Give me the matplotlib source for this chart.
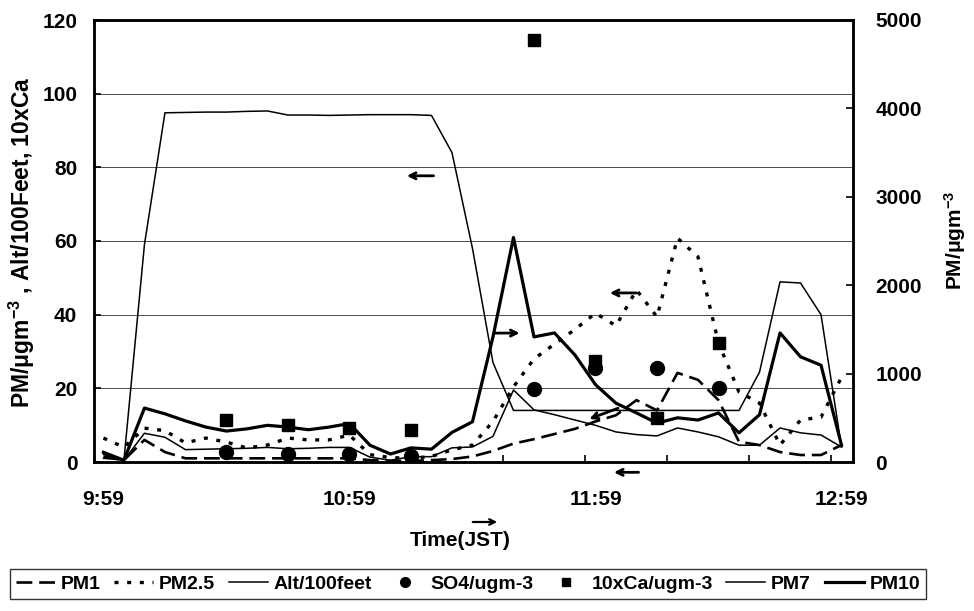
import matplotlib
matplotlib.use('Agg')
import matplotlib.pyplot as plt
import numpy as np
from matplotlib.ticker import FixedLocator, FixedFormatter, NullFormatter

plt.rcParams['font.family'] = ['Liberation Sans', 'DejaVu Sans']
plt.rcParams['font.weight'] = 'bold'
plt.rcParams['mathtext.fontset'] = 'custom'
plt.rcParams['mathtext.rm'] = 'Liberation Sans:bold'
plt.rcParams['mathtext.bf'] = 'Liberation Sans:bold'
plt.rcParams['mathtext.it'] = 'Liberation Sans:bold:italic'
plt.rcParams['mathtext.default'] = 'bf'

# ---------------- data ----------------
# minutes after 9:59 JST, 5-minute samples
minutes = np.arange(0, 185, 5)
time_labels = ['9:59', '10:59', '11:59', '12:59']
label_minutes = [0, 60, 120, 180]

# left axis (ugm-3 / 100 feet)
pm1 = [1.5, 0.5, 6, 2.7, 1, 1, 1, 1, 1, 1, 1, 1, 1, 0.5, 0.3, 0.3, 0.5, 0.8, 1.5,
       3, 5, 6.2, 7.6, 9, 11, 12.7, 16.8, 14, 24.2, 22.3, 16.8, 5.5, 4.6, 2.7, 1.9, 1.9, 4.6]
pm25 = [6.5, 4, 9.2, 8.5, 5.2, 6.5, 5.4, 3.8, 4.6, 6.5, 6, 6, 7.3, 2, 1.2, 1, 1.5, 3.3, 4.6,
        11, 20.4, 28, 32, 36, 40.4, 37, 46.7, 39.4, 60.8, 55.7, 32.3, 19, 16, 4.6, 11.4, 12.2, 23]
alt100ft = [1, 0.5, 59, 94.8, 94.9, 95, 95, 95.2, 95.3, 94.2, 94.2, 94.1, 94.2, 94.3, 94.3,
            94.3, 94.1, 84, 58, 27, 14, 14, 14, 14, 14, 14, 14, 14, 14, 14, 14, 14,
            24.4, 48.9, 48.6, 40, 4]

# discrete filter samples (left axis)
sample_minutes = [30, 45, 60, 75, 105, 120, 135, 150]
so4 = [2.8, 2.2, 2.2, 1.5, 19.7, 25.5, 25.5, 20.1]
ca10 = [11.4, 10, 9.2, 8.7, 114.6, 27.5, 12, 32.3]

# right axis (ugm-3)
pm7 = [85, 20, 325, 280, 140, 145, 150, 155, 165, 150, 155, 165, 165, 55, 20, 60, 60, 160, 170,
       290, 815, 590, 535, 475, 415, 340, 310, 295, 385, 340, 285, 190, 190, 385, 330, 305, 170]
pm10 = [110, 20, 610, 545, 465, 395, 350, 375, 415, 395, 365, 395, 435, 190, 90, 160, 145, 335, 455,
        1415, 2540, 1415, 1460, 1210, 875, 665, 555, 440, 500, 475, 555, 330, 535, 1460, 1190, 1095, 190]

# ---------------- figure ----------------
W, H = 974, 611
fig = plt.figure(figsize=(W / 100, H / 100), dpi=100)
L, R, T, B = 94, 853, 20, 462
ax = fig.add_axes([L / W, 1 - B / H, (R - L) / W, (B - T) / H])
ax2 = ax.twinx()

FS = 15

# left-axis series
h_pm1, = ax.plot(minutes, pm1, color='black', lw=1.9, linestyle=(0, (6, 2.6)), zorder=3)
h_pm25, = ax.plot(minutes, pm25, color='black', lw=2.4, linestyle=(0, (1.2, 2.6)), zorder=3)
h_alt, = ax.plot(minutes, alt100ft, color='black', lw=1.1, zorder=3)
h_so4, = ax.plot(sample_minutes, so4, linestyle='none', marker='o', ms=10, color='black', zorder=4)
h_ca, = ax.plot(sample_minutes, ca10, linestyle='none', marker='s', ms=8.5, color='black', zorder=4)

# right-axis series
h_pm7, = ax2.plot(minutes, pm7, color='black', lw=1.1, zorder=3)
h_pm10, = ax2.plot(minutes, pm10, color='black', lw=2.3, zorder=3)

ax.set_xlim(-2.3, 182.8)
ax.set_ylim(0, 120)
ax2.set_ylim(0, 5000)

# grid
ax.set_yticks(np.arange(0, 121, 20))
ax.yaxis.grid(True, color='0.3', lw=0.7)
ax.set_axisbelow(True)

# x ticks: small marks every 20 min on right part, labels hourly
ax.xaxis.set_major_locator(FixedLocator(np.arange(97.5, 182, 20)))
ax.xaxis.set_major_formatter(NullFormatter())
ax.xaxis.set_minor_locator(FixedLocator(label_minutes))
ax.xaxis.set_minor_formatter(FixedFormatter(time_labels))
ax.tick_params(axis='x', which='major', direction='in', length=5, width=1.2)
ax.tick_params(axis='x', which='minor', length=0, pad=20, labelsize=FS)
ax.tick_params(axis='y', direction='in', length=5, width=1.2, pad=12, labelsize=FS)

ax2.set_yticks(np.arange(0, 5001, 1000))
ax2.tick_params(axis='y', direction='in', length=5, width=1.2, pad=16, labelsize=FS)
ax2.tick_params(axis='x', which='both', length=0)

for a in (ax, ax2):
    for s in a.spines.values():
        s.set_linewidth(1.8)

# axis labels
fig.text(22 / W, 1 - 242 / H, 'PM/$\\mu$gm$^{-3}$ , Alt/100Feet, 10xCa', rotation=90,
         ha='center', va='center', fontsize=16.5, fontweight='bold')
fig.text(955 / W, 1 - 240 / H, 'PM/$\\mu$gm$^{-3}$', rotation=90,
         ha='center', va='center', fontsize=FS, fontweight='bold')
fig.text(460 / W, 1 - 540 / H, 'Time(JST)', ha='center', va='center', fontsize=15, fontweight='bold')
fig.add_artist(matplotlib.patches.FancyArrowPatch((470 / W, 1 - 522 / H), (500 / W, 1 - 522 / H),
               transform=fig.transFigure, arrowstyle='->', mutation_scale=10, lw=1.6, color='black'))

# direction arrows indicating axis
aprops = dict(arrowstyle='->', lw=2.0, color='black', mutation_scale=11, shrinkA=0, shrinkB=0)
ax.annotate('', xy=(74, 77.7), xytext=(80.5, 77.7), arrowprops=aprops)
ax.annotate('', xy=(101.5, 35), xytext=(95.5, 35), arrowprops=aprops)
ax.annotate('', xy=(123.5, 45.9), xytext=(130, 45.9), arrowprops=aprops)
ax.annotate('', xy=(118.5, 11.7), xytext=(125.5, 14.6), arrowprops=aprops)
ax.annotate('', xy=(124.5, -2.8), xytext=(130.5, -2.8), arrowprops=aprops, annotation_clip=False)

# legend
handles = [h_pm1, h_pm25, h_alt, h_so4, h_ca, h_pm7, h_pm10]
labels = ['PM1', 'PM2.5', 'Alt/100feet', 'SO4/ugm-3', '10xCa/ugm-3', 'PM7', 'PM10']
leg = fig.legend(handles, labels, loc='center', bbox_to_anchor=(468 / W, 1 - 584 / H), ncol=7,
                 frameon=True, fancybox=False, edgecolor='black', handlelength=2.0,
                 handletextpad=0.3, columnspacing=0.7, fontsize=14, borderpad=0.3,
                 markerscale=0.7)
leg.get_frame().set_linewidth(1.0)

fig.savefig('out.png', dpi=100)
